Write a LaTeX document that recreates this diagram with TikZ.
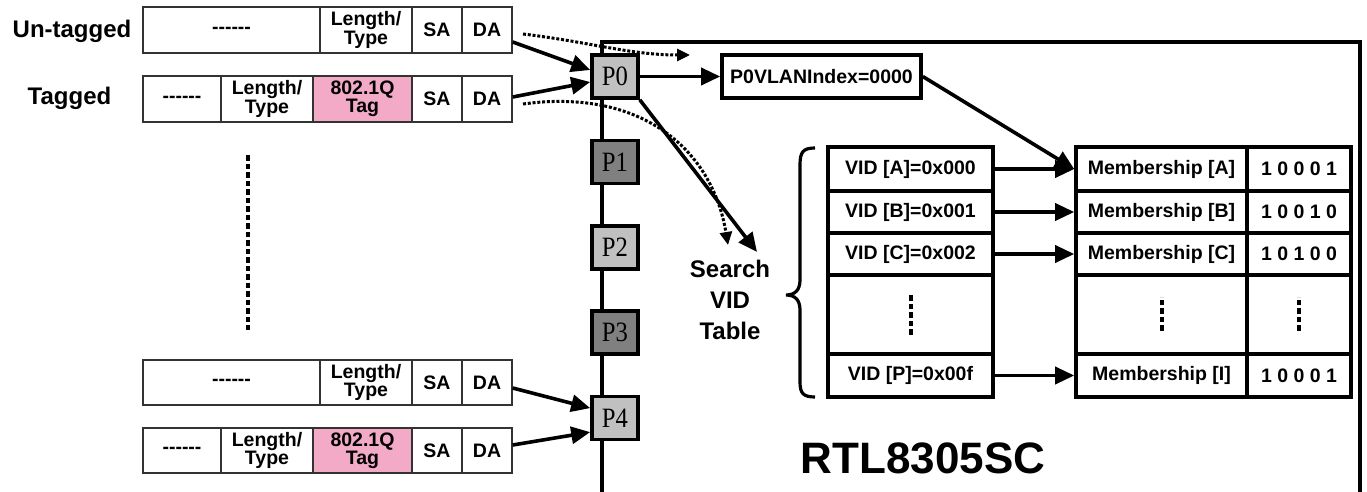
\documentclass[tikz,border=0pt]{standalone}
\usepackage{fontspec}
\setmainfont{Liberation Sans}
\newfontfamily\portfont{Liberation Serif}[FakeStretch=0.88]
\usetikzlibrary{arrows.meta}
\definecolor{tagpink}{RGB}{242,170,198}
\definecolor{portlight}{RGB}{192,192,192}
\definecolor{portdark}{RGB}{128,128,128}
\newcommand{\hyph}{-{}-{}-{}-{}-{}-}
\begin{document}
\begin{tikzpicture}[x=1pt,y=-1pt,
  cell/.style={draw=black!80, line width=1.4pt, inner sep=0pt, align=center,
    font=\bfseries\fontsize{19.5}{17}\selectfont},
  tcell/.style={draw, line width=3.6pt, inner sep=0pt,
    font=\bfseries\fontsize{19.5}{20}\selectfont},
  port/.style={draw, line width=3.6pt, minimum width=46pt, minimum height=43pt,
    inner sep=0pt, font=\portfont\fontsize{28}{28}\selectfont},
  lbl/.style={inner sep=0pt, align=center, font=\bfseries\fontsize{24}{31}\selectfont},
  arr/.style={line width=3.6pt, -{Triangle[length=19pt,width=17pt]}},
  dotarr/.style={line width=3pt, dash pattern=on 3pt off 1.8pt, -{Triangle[length=13pt,width=12pt]}},
  vdots/.style={line width=4pt, dash pattern=on 5.5pt off 3pt},
  chip/.style={line width=3.6pt}
]
\useasboundingbox (0,0) rectangle (1367,492);

% chip outline
\draw[chip] (602,492) -- (602,42) -- (1360,42) -- (1360,492);

% frames
\node[lbl] (untag) at (72,31) {Un-tagged};
\node[lbl] (tag) at (69.5,98) {Tagged};

\node[cell, minimum width=177pt, minimum height=46pt] (r1a) at (231.5,30) {\hyph};
\node[cell, minimum width=92pt, minimum height=46pt] (r1b) at (366,30) {Length/\\Type};
\node[cell, minimum width=50pt, minimum height=46pt] (r1c) at (437,30) {SA};
\node[cell, minimum width=50pt, minimum height=46pt] (r1d) at (487,30) {DA};

\node[cell, minimum width=78pt, minimum height=46pt] (r2a) at (182,99) {\hyph};
\node[cell, minimum width=92pt, minimum height=46pt] (r2b) at (267,99) {Length/\\Type};
\node[cell, fill=tagpink, minimum width=99pt, minimum height=46pt] (r2c) at (362.5,99) {802.1Q\\Tag};
\node[cell, minimum width=50pt, minimum height=46pt] (r2d) at (437,99) {SA};
\node[cell, minimum width=50pt, minimum height=46pt] (r2e) at (487,99) {DA};

\node[cell, minimum width=177pt, minimum height=45pt] (r3a) at (231.5,382.5) {\hyph};
\node[cell, minimum width=92pt, minimum height=45pt] (r3b) at (366,382.5) {Length/\\Type};
\node[cell, minimum width=50pt, minimum height=45pt] (r3c) at (437,382.5) {SA};
\node[cell, minimum width=50pt, minimum height=45pt] (r3d) at (487,382.5) {DA};

\node[cell, minimum width=78pt, minimum height=45pt] (r4a) at (182,450.5) {\hyph};
\node[cell, minimum width=92pt, minimum height=45pt] (r4b) at (267,450.5) {Length/\\Type};
\node[cell, fill=tagpink, minimum width=99pt, minimum height=45pt] (r4c) at (362.5,450.5) {802.1Q\\Tag};
\node[cell, minimum width=50pt, minimum height=45pt] (r4d) at (437,450.5) {SA};
\node[cell, minimum width=50pt, minimum height=45pt] (r4e) at (487,450.5) {DA};

\coordinate (ldt) at (248,155);
\coordinate (ldb) at (248,330);
\draw[vdots] (ldt) -- (ldb);

% ports
\node[port, fill=portlight] (p0) at (615,76.5) {P0};
\node[port, fill=portdark] (p1) at (615,161.9) {P1};
\node[port, fill=portlight] (p2) at (615,247.3) {P2};
\node[port, fill=portdark] (p3) at (615,332.7) {P3};
\node[port, fill=portlight] (p4) at (615,418.1) {P4};

% P0VLANIndex
\node[draw, line width=3.6pt, minimum width=199pt, minimum height=43pt, inner sep=0pt,
  font=\bfseries\fontsize{19.5}{20}\selectfont] (vlan) at (821.5,76.5) {P0VLANIndex=0000};

% VID table
\node[tcell, minimum width=165pt, minimum height=44pt] (va) at (910.5,169) {VID [A]=0x000};
\node[tcell, minimum width=165pt, minimum height=42pt] (vb) at (910.5,212) {VID [B]=0x001};
\node[tcell, minimum width=165pt, minimum height=42pt] (vc) at (910.5,254) {VID [C]=0x002};
\node[tcell, minimum width=165pt, minimum height=79pt] (vd) at (910.5,314.5) {};
\node[tcell, minimum width=165pt, minimum height=43pt] (ve) at (910.5,375.5) {VID [P]=0x00f};

% Membership table
\node[tcell, minimum width=171pt, minimum height=44pt] (ma) at (1161.5,169) {Membership [A]};
\node[tcell, minimum width=171pt, minimum height=42pt] (mb) at (1161.5,212) {Membership [B]};
\node[tcell, minimum width=171pt, minimum height=42pt] (mc) at (1161.5,254) {Membership [C]};
\node[tcell, minimum width=171pt, minimum height=79pt] (md) at (1161.5,314.5) {};
\node[tcell, minimum width=171pt, minimum height=43pt] (me) at (1161.5,375.5) {Membership [I]};

\node[tcell, minimum width=104pt, minimum height=44pt] (ba) at (1299,169) {1 0 0 0 1};
\node[tcell, minimum width=104pt, minimum height=42pt] (bb) at (1299,212) {1 0 0 1 0};
\node[tcell, minimum width=104pt, minimum height=42pt] (bc) at (1299,254) {1 0 1 0 0};
\node[tcell, minimum width=104pt, minimum height=79pt] (bd) at (1299,314.5) {};
\node[tcell, minimum width=104pt, minimum height=43pt] (be) at (1299,375.5) {1 0 0 0 1};

\draw[vdots] ([yshift=-20pt]vd.center) -- ([yshift=20pt]vd.center);
\draw[vdots] ([yshift=-16pt]md.center) -- ([yshift=18pt]md.center);
\draw[vdots] ([yshift=-16pt]bd.center) -- ([yshift=18pt]bd.center);

% brace
\draw[line width=3.2pt] (815,148) .. controls (803,148) and (800,152) .. (800,165)
  -- (800,280) .. controls (800,290) and (795,295) .. (786,295)
  .. controls (795,295) and (800,300) .. (800,310)
  -- (800,382) .. controls (800,393) and (803,397) .. (815,397);

% labels
\node[lbl] (search) at (730,300) {Search\\VID\\Table};
\node[inner sep=0pt, font=\bfseries\fontsize{44}{44}\selectfont] (rtl) at (923,458) {RTL8305SC};

% arrows into ports
\draw[arr] ([yshift=-12pt]r1d.east) -- ([yshift=6.5pt]p0.west);
\draw[arr] ([yshift=2pt]r2e.east) -- ([yshift=-5.5pt]p0.west);
\draw[arr] ([yshift=-5.5pt]r3d.east) -- ([yshift=10pt]p4.west);
\draw[arr] ([yshift=5.5pt]r4e.east) -- ([yshift=-14pt]p4.west);

% dotted paths
\coordinate (d1s) at (523,34);
\coordinate (d1e) at (690,55);
\coordinate (d2s) at (523,104);
\coordinate (d2e) at (728,245);
\coordinate (se) at (757,252);
\draw[dotarr] (d1s) .. controls (590,42) and (630,55) .. (d1e);
\draw[dotarr] (d2s) .. controls (640,88) and (712,148) .. (d2e);

% P0 outputs
\draw[arr] (p0.east) -- (vlan.west);
\draw[arr] (p0.south east) -- (se);
\draw[arr] (vlan.east) -- (ma.west);

% table arrows
\draw[arr] (va.east) -- (ma.west);
\draw[arr] (vb.east) -- (mb.west);
\draw[arr] (vc.east) -- (mc.west);
\draw[arr] (ve.east) -- (me.west);
\end{tikzpicture}
\end{document}
